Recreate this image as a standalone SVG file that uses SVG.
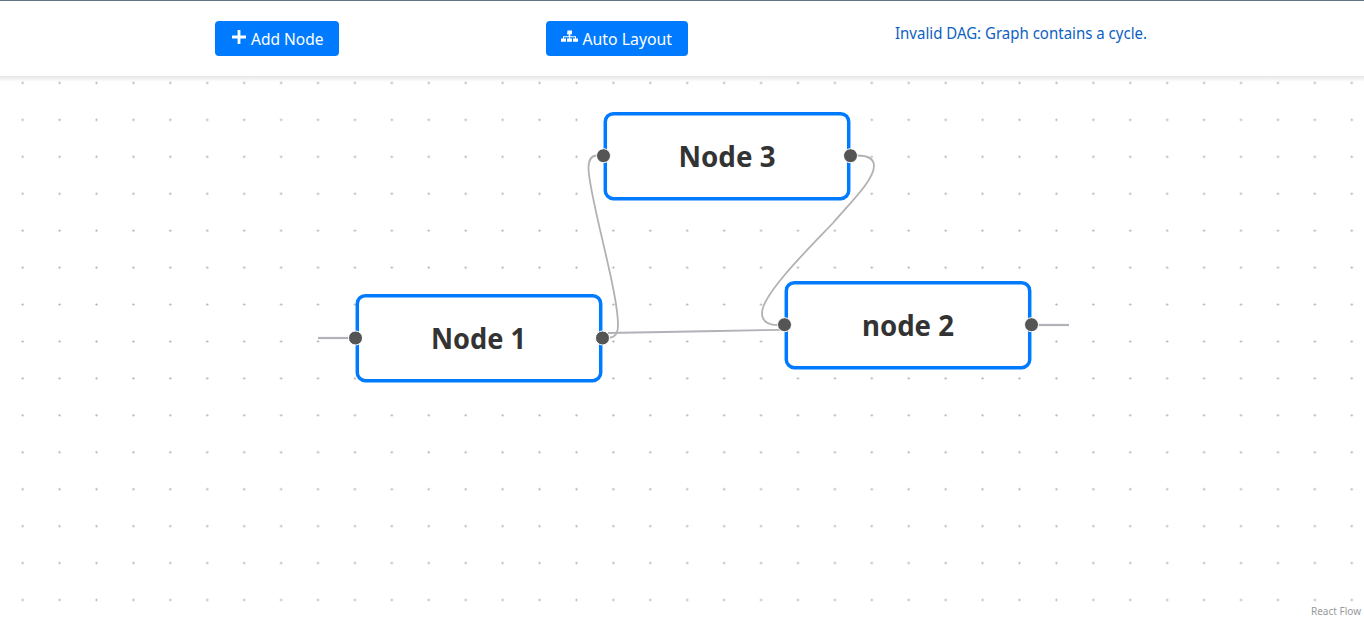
<svg xmlns="http://www.w3.org/2000/svg" width="1364" height="618" viewBox="0 0 1364 618">
<style>
text{font-family:"Noto Sans","Open Sans","Liberation Sans",sans-serif}
.btn{fill:#007bff}
.bt{fill:#fff;font-size:16px}
.node{fill:#fff;stroke:#007bff;stroke-width:3.500}
.lbl{fill:#333;font-size:28px;font-weight:700;text-anchor:middle}
.h{fill:#555;stroke:#fff;stroke-width:1}
.e{fill:none;stroke:#b1b1b7;stroke-width:1.800}
.s{fill:none;stroke:#b1b1b7;stroke-width:2.200}
</style>
<defs>
<pattern id="dots" x="4.200" y="64.500" width="36.920" height="36.930" patternUnits="userSpaceOnUse">
<circle cx="18.460" cy="18.460" r="1.100" fill="#a8a8a8"/>
</pattern>
<linearGradient id="sh" x1="0" y1="0" x2="0" y2="1">
<stop offset="0" stop-color="#000" stop-opacity=".10"/>
<stop offset="1" stop-color="#000" stop-opacity="0"/>
</linearGradient>
</defs>
<rect width="1364" height="618" fill="#fff"/>
<rect x="0" y="78" width="1364" height="540" fill="url(#dots)"/>
<g id="header">
<rect x="0" y="76" width="1364" height="6" fill="url(#sh)"/>
<rect x="0" y="0" width="1364" height="76" fill="#fff"/>
<rect x="0" y="0" width="1364" height="1" fill="#5f7380"/>
</g>
<g id="add-node">
<rect class="btn" x="215" y="21" width="124" height="35" rx="4"/>
<path fill="#fff" d="M237.600 30h2.800v5.600h5.600v2.800h-5.600v5.600h-2.800v-5.600H232v-2.800h5.600z"/>
<text class="bt" x="251" y="44.500" textLength="72.500" lengthAdjust="spacingAndGlyphs">Add Node</text>
</g>
<g id="auto-layout">
<rect class="btn" x="546" y="21" width="142" height="35" rx="4"/>
<path fill="#fff" d="M567.500 30.500h4.500v3.800h-1.700v1.900h5.700v2.200h2v3.400h-5v-3.400h2v-1.200h-5v1.200h2v3.400h-5v-3.400h2v-1.200h-5v1.200h2v3.400h-5v-3.400h2v-2.200h5.700v-1.900h-1.700z"/>
<text class="bt" x="582.500" y="44.500" textLength="89.500" lengthAdjust="spacingAndGlyphs">Auto Layout</text>
</g>
<text id="status" x="895" y="38.500" font-size="16" fill="#0d5fc4" textLength="252" lengthAdjust="spacingAndGlyphs">Invalid DAG: Graph contains a cycle.</text>
<g id="connectors">
<path class="s" d="M318 338H350"/>
<path class="s" d="M1037 325H1069"/>
<path class="e" d="M608 333C660 332 725 331 780 329.800"/>
<path class="e" d="M857 155.500C869 155.500 874 160 874 166C874 180 850 203 833 223C812 245 762 294 762 313C762 321 768 325 778 325"/>
<path class="e" d="M597 155.500C591 155.500 588.500 160 588.500 168C588.500 195 618 290 618 325C618 334 615 337 609 338"/>
</g>
<g id="node-1">
<rect class="node" x="357.300" y="295.700" width="243.400" height="85" rx="8"/>
<text class="lbl" x="478.500" y="349" textLength="95" lengthAdjust="spacingAndGlyphs">Node 1</text>
<circle class="h" cx="355.500" cy="338" r="7"/>
<circle class="h" cx="602.500" cy="338" r="7"/>
</g>
<g id="node-3">
<rect class="node" x="605.300" y="113.700" width="243.400" height="85" rx="8"/>
<text class="lbl" x="727" y="167" textLength="97" lengthAdjust="spacingAndGlyphs">Node 3</text>
<circle class="h" cx="603.500" cy="155.700" r="7"/>
<circle class="h" cx="850.500" cy="155.700" r="7"/>
</g>
<g id="node-2">
<rect class="node" x="786.300" y="282.700" width="243.400" height="85" rx="8"/>
<text class="lbl" x="908" y="336" textLength="92" lengthAdjust="spacingAndGlyphs">node 2</text>
<circle class="h" cx="784.500" cy="324.700" r="7"/>
<circle class="h" cx="1031.500" cy="324.700" r="7"/>
</g>
<text id="attribution" x="1311" y="614.500" font-size="10" fill="#999" textLength="50" lengthAdjust="spacingAndGlyphs">React Flow</text>
</svg>
